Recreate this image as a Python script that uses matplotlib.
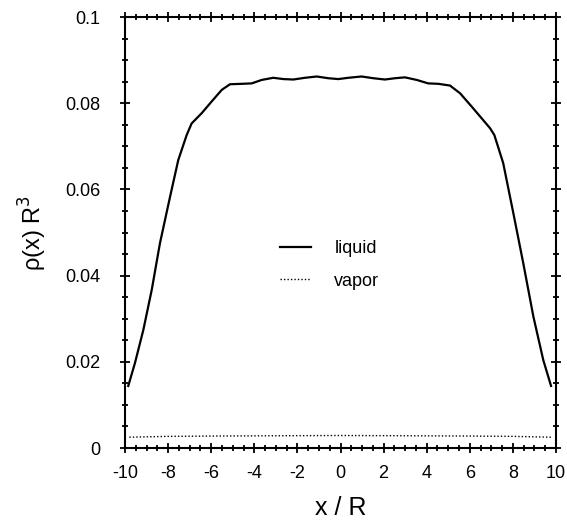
import matplotlib.pyplot as plt
from matplotlib.ticker import MultipleLocator

plt.rcParams['font.family'] = ['Liberation Sans', 'DejaVu Sans']

# liquid density profile
x_liquid = [-9.85, -9.54, -9.15, -8.76, -8.38, -7.91, -7.53, -7.14, -6.91, -6.44,
            -5.98, -5.51, -5.13, -4.58, -4.12, -3.66, -3.12, -2.65, -2.19, -1.65,
            -1.10, -0.57, -0.10, 0.36, 0.98, 1.52, 2.06, 2.53, 2.99, 3.54,
            4.07, 4.54, 5.08, 5.55, 6.09, 6.55, 6.94, 7.14, 7.55, 8.02,
            8.48, 8.95, 9.41, 9.77]
rho_liquid = [0.0144, 0.0197, 0.0274, 0.0367, 0.0475, 0.0583, 0.0668, 0.0726, 0.0753, 0.0777,
              0.0804, 0.0831, 0.0844, 0.0845, 0.0846, 0.0854, 0.0859, 0.0856, 0.0855, 0.0859,
              0.0862, 0.0858, 0.0856, 0.0859, 0.0862, 0.0858, 0.0855, 0.0858, 0.0860, 0.0854,
              0.0846, 0.0845, 0.0841, 0.0823, 0.0792, 0.0765, 0.0742, 0.0726, 0.0661, 0.0545,
              0.0429, 0.0305, 0.0204, 0.0144]

# vapor density profile
x_vapor = [-9.8, -8.0, -5.0, 0.0, 5.0, 8.0, 9.8]
rho_vapor = [0.0025, 0.0027, 0.0028, 0.0029, 0.0028, 0.0027, 0.0025]


def plot_profiles():
    fig = plt.figure(figsize=(5.67, 5.27), dpi=100)
    ax = fig.add_axes([0.2205, 0.1499, 0.7601, 0.8178])

    ax.plot(x_liquid, rho_liquid, color='black', lw=1.6, label='liquid',
            solid_joinstyle='round')
    ax.plot(x_vapor, rho_vapor, color='black', lw=1.0, linestyle=(0, (1, 1.5)), label='vapor')

    ax.set_xlim(-10, 10)
    ax.set_ylim(0, 0.1)
    ax.xaxis.set_major_locator(MultipleLocator(2))
    ax.xaxis.set_minor_locator(MultipleLocator(0.5))
    ax.yaxis.set_major_locator(MultipleLocator(0.02))
    ax.yaxis.set_minor_locator(MultipleLocator(0.005))
    ax.set_xticks(range(-10, 11, 2))
    ax.set_xticklabels([str(v) for v in range(-10, 11, 2)])
    ax.set_yticks([0, 0.02, 0.04, 0.06, 0.08, 0.1])
    ax.set_yticklabels(['0', '0.02', '0.04', '0.06', '0.08', '0.1'])

    ax.tick_params(which='both', direction='inout', top=True, right=True, width=1.3)
    ax.tick_params(which='major', length=7, labelsize=13)
    ax.tick_params(axis='x', which='major', pad=9)
    ax.tick_params(axis='y', which='major', pad=14)
    ax.tick_params(which='minor', length=4)
    for spine in ax.spines.values():
        spine.set_linewidth(1.5)

    ax.set_xlabel('x / R', fontsize=18, labelpad=10)
    ax.set_ylabel(r'ρ(x) R$^3$', fontsize=17, labelpad=12)

    ax.legend(loc='center', bbox_to_anchor=(0.475, 0.425), frameon=False, fontsize=13,
              handlelength=1.7, handletextpad=1.3, labelspacing=0.85)

    fig.savefig('out.png', dpi=100)


if __name__ == '__main__':
    plot_profiles()
